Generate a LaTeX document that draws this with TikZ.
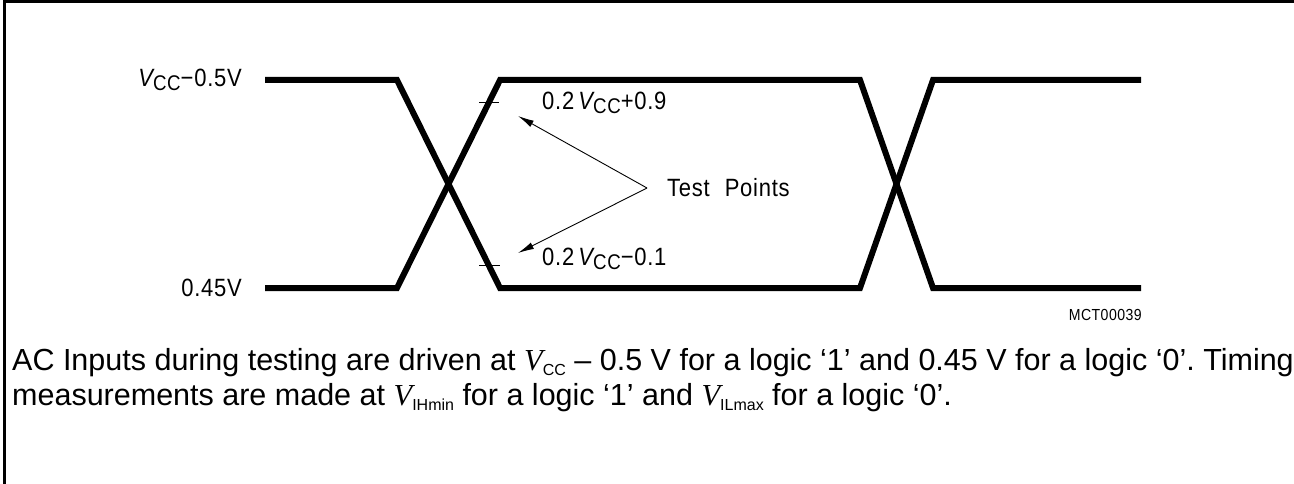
\documentclass[tikz,border=0pt]{standalone}
\usepackage{fontspec}
\setmainfont{Liberation Sans}
\newfontfamily\serifit{Liberation Serif}
\newfontfamily\diagfont[LetterSpace=3,FakeStretch=0.88]{Liberation Sans}
\usetikzlibrary{arrows.meta}
\frenchspacing
\newcommand{\mysub}[1]{\raisebox{-0.3ex}{\scalebox{0.85}{#1}}}
\newcommand{\psub}[1]{\raisebox{-0.35ex}{\fontsize{16}{16}\selectfont #1}}
\begin{document}
\begin{tikzpicture}[x=1pt,y=-1pt,
  wave/.style={line width=6pt, line join=miter},
  tickmark/.style={line width=1pt},
  lead/.style={line width=0.9pt,-{Latex[length=16pt,width=7pt]}},
  lbl/.style={font=\diagfont\fontsize{25}{28}\selectfont, inner sep=0pt},
  para/.style={font=\fontsize{30.5}{34}\selectfont, inner sep=0pt, anchor=base west},
]
\useasboundingbox (0,0) rectangle (1294,484);
% frame
\coordinate (fr1) at (1294,2);
\coordinate (fr2) at (4,2);
\coordinate (fr3) at (4,484);
\draw[line width=3pt] (fr1) -- (fr2) -- (fr3);

% waveform coordinates
\coordinate (a1) at (265,80);
\coordinate (a2) at (397,80);
\coordinate (a3) at (500,288);
\coordinate (a4) at (860,288);
\coordinate (a5) at (933,80);
\coordinate (a6) at (1141,80);
\coordinate (b1) at (265,288);
\coordinate (b2) at (397,288);
\coordinate (b3) at (500,80);
\coordinate (b4) at (860,80);
\coordinate (b5) at (933,288);
\coordinate (b6) at (1141,288);
\draw[wave] (a1) -- (a2) -- (a3) -- (a4) -- (a5) -- (a6);
\draw[wave] (b1) -- (b2) -- (b3) -- (b4) -- (b5) -- (b6);

% tick marks
\coordinate (t1a) at (479,103);
\coordinate (t1b) at (499,103);
\coordinate (t2a) at (479,265);
\coordinate (t2b) at (500,265);
\draw[tickmark] (t1a) -- (t1b);
\draw[tickmark] (t2a) -- (t2b);

% level labels
\node[lbl, anchor=east] (vhi) at (242,80) {{\itshape V}\mysub{CC}−0.5V};
\node[lbl, anchor=east] (vlo) at (242,288) {0.45V};

% test point labels
\node[lbl, anchor=west] (thi) at (542,103) {0.2\,{\itshape V}\mysub{CC}+0.9};
\node[lbl, anchor=west] (tlo) at (542,259) {0.2\,{\itshape V}\mysub{CC}−0.1};
\node[lbl, anchor=west] (tp) at (667,188) {Test\hspace{0.6em}Points};
\coordinate (tv) at (647,188);
\coordinate (ah) at (518,116);
\coordinate (al) at (518,253);
\draw[lead] (tv) -- (ah);
\draw[lead] (tv) -- (al);

% figure id
\node[font=\diagfont\fontsize{16}{18}\selectfont, inner sep=0pt, anchor=east] (id) at (1142,315) {MCT00039};

% caption
\node[para] (p1) at (12,370) {AC Inputs during testing are driven at {\serifit\itshape V}\psub{CC} – 0.5 V for a logic ‘1’ and 0.45 V for a logic ‘0’. Timing};
\node[para] (p2) at (12,405) {measurements are made at {\serifit\itshape V}\psub{IHmin} for a logic ‘1’ and {\serifit\itshape V}\psub{ILmax} for a logic ‘0’.};
\end{tikzpicture}
\end{document}
